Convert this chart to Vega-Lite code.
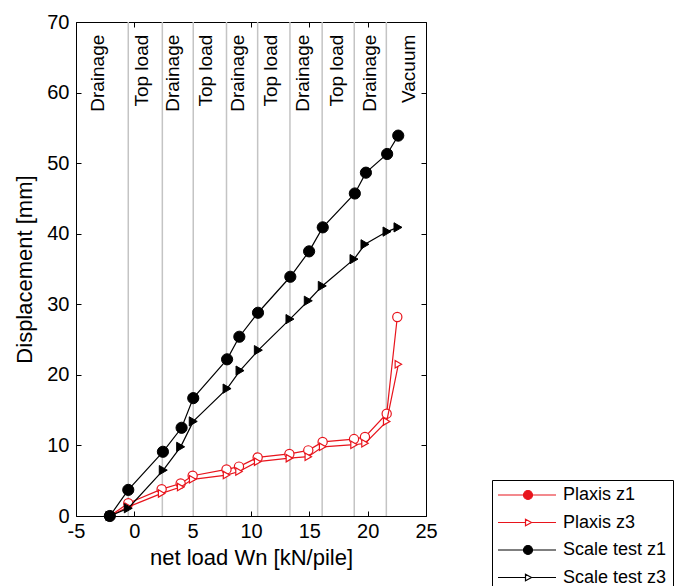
{
  "$schema": "https://vega.github.io/schema/vega-lite/v6.json",
  "autosize": "none",
  "width": 350,
  "height": 494,
  "padding": {"left": 76, "top": 22, "right": 252, "bottom": 70},
  "background": "white",
  "config": {
    "view": {"stroke": "black", "strokeWidth": 1},
    "font": "Liberation Sans",
    "axis": {
      "grid": false,
      "domain": false,
      "tickColor": "black",
      "tickSize": -5,
      "labelFlush": false,
      "labelColor": "black",
      "titleColor": "black",
      "labelFont": "Liberation Sans",
      "titleFont": "Liberation Sans",
      "titleFontWeight": "normal",
      "labelFontSize": 20,
      "titleFontSize": 22
    },
    "legend": {
      "title": null, "orient": "none", "legendX": 416, "legendY": 458,
      "strokeColor": "black", "fillColor": "white", "padding": 6,
      "labelFontSize": 18, "labelColor": "black", "labelFont": "Liberation Sans",
      "rowPadding": 9.5, "symbolSize": 100, "labelOffset": 47,
      "symbolOpacity": 1, "symbolStrokeWidth": 1.2
    }
  },
  "datasets": {
    "series": [
      {"series": "Plaxis z1", "x": -2.1, "y": 0},
      {"series": "Plaxis z1", "x": -0.52, "y": 1.8},
      {"series": "Plaxis z1", "x": 2.34, "y": 3.8},
      {"series": "Plaxis z1", "x": 3.97, "y": 4.6},
      {"series": "Plaxis z1", "x": 5.0, "y": 5.7},
      {"series": "Plaxis z1", "x": 7.9, "y": 6.6},
      {"series": "Plaxis z1", "x": 8.97, "y": 7.0},
      {"series": "Plaxis z1", "x": 10.57, "y": 8.3},
      {"series": "Plaxis z1", "x": 13.29, "y": 8.8},
      {"series": "Plaxis z1", "x": 14.91, "y": 9.3},
      {"series": "Plaxis z1", "x": 16.14, "y": 10.5},
      {"series": "Plaxis z1", "x": 18.83, "y": 10.9},
      {"series": "Plaxis z1", "x": 19.77, "y": 11.2},
      {"series": "Plaxis z1", "x": 21.63, "y": 14.5},
      {"series": "Plaxis z1", "x": 22.54, "y": 28.2},
      {"series": "Plaxis z3", "x": -2.1, "y": 0},
      {"series": "Plaxis z3", "x": -0.52, "y": 1.3},
      {"series": "Plaxis z3", "x": 2.34, "y": 3.2},
      {"series": "Plaxis z3", "x": 3.97, "y": 4.1},
      {"series": "Plaxis z3", "x": 5.0, "y": 5.2},
      {"series": "Plaxis z3", "x": 7.9, "y": 5.8},
      {"series": "Plaxis z3", "x": 8.97, "y": 6.3},
      {"series": "Plaxis z3", "x": 10.57, "y": 7.7},
      {"series": "Plaxis z3", "x": 13.29, "y": 8.2},
      {"series": "Plaxis z3", "x": 14.91, "y": 8.4},
      {"series": "Plaxis z3", "x": 16.14, "y": 9.8},
      {"series": "Plaxis z3", "x": 18.83, "y": 10.1},
      {"series": "Plaxis z3", "x": 19.77, "y": 10.3},
      {"series": "Plaxis z3", "x": 21.63, "y": 13.4},
      {"series": "Plaxis z3", "x": 22.63, "y": 21.5},
      {"series": "Scale test z1", "x": -2.1, "y": 0},
      {"series": "Scale test z1", "x": -0.52, "y": 3.7},
      {"series": "Scale test z1", "x": 2.45, "y": 9.1},
      {"series": "Scale test z1", "x": 4.05, "y": 12.5},
      {"series": "Scale test z1", "x": 5.05, "y": 16.7},
      {"series": "Scale test z1", "x": 7.95, "y": 22.2},
      {"series": "Scale test z1", "x": 9.0, "y": 25.4},
      {"series": "Scale test z1", "x": 10.6, "y": 28.8},
      {"series": "Scale test z1", "x": 13.37, "y": 33.9},
      {"series": "Scale test z1", "x": 14.98, "y": 37.5},
      {"series": "Scale test z1", "x": 16.15, "y": 40.9},
      {"series": "Scale test z1", "x": 18.9, "y": 45.7},
      {"series": "Scale test z1", "x": 19.85, "y": 48.65},
      {"series": "Scale test z1", "x": 21.67, "y": 51.3},
      {"series": "Scale test z1", "x": 22.62, "y": 53.9},
      {"series": "Scale test z3", "x": -2.1, "y": 0},
      {"series": "Scale test z3", "x": -0.52, "y": 1.1},
      {"series": "Scale test z3", "x": 2.48, "y": 6.5},
      {"series": "Scale test z3", "x": 3.97, "y": 9.8},
      {"series": "Scale test z3", "x": 5.05, "y": 13.4},
      {"series": "Scale test z3", "x": 7.95, "y": 18.05},
      {"series": "Scale test z3", "x": 9.06, "y": 20.6},
      {"series": "Scale test z3", "x": 10.63, "y": 23.5},
      {"series": "Scale test z3", "x": 13.34, "y": 27.9},
      {"series": "Scale test z3", "x": 14.91, "y": 30.5},
      {"series": "Scale test z3", "x": 16.11, "y": 32.6},
      {"series": "Scale test z3", "x": 18.83, "y": 36.4},
      {"series": "Scale test z3", "x": 19.77, "y": 38.5},
      {"series": "Scale test z3", "x": 21.66, "y": 40.3},
      {"series": "Scale test z3", "x": 22.6, "y": 40.9}
    ],
    "phases": [
      {"label": "Drainage", "x": -3.1},
      {"label": "Top load", "x": 0.65},
      {"label": "Drainage", "x": 3.34},
      {"label": "Top load", "x": 6.14},
      {"label": "Drainage", "x": 8.9},
      {"label": "Top load", "x": 11.7},
      {"label": "Drainage", "x": 14.48},
      {"label": "Top load", "x": 17.34},
      {"label": "Drainage", "x": 20.2},
      {"label": "Vacuum", "x": 23.5}
    ],
    "bounds": [
      {"x": -0.52}, {"x": 2.4}, {"x": 5.05}, {"x": 7.9}, {"x": 10.57},
      {"x": 13.34}, {"x": 16.1}, {"x": 18.85}, {"x": 21.6}
    ]
  },
  "layer": [
    {
      "data": {"name": "bounds"},
      "mark": {"type": "rule", "color": "#c4c4c4", "strokeWidth": 1.5},
      "encoding": {
        "x": {
          "field": "x", "type": "quantitative",
          "scale": {"domain": [-5, 25], "nice": false, "zero": false},
          "axis": {"orient": "top", "labels": false, "title": null, "values": [-5, 0, 5, 10, 15, 20, 25]}
        },
        "y": {
          "datum": 0, "type": "quantitative",
          "scale": {"domain": [0, 70], "nice": false},
          "axis": {"orient": "right", "labels": false, "title": null, "values": [0, 10, 20, 30, 40, 50, 60, 70]}
        },
        "y2": {"datum": 70}
      }
    },
    {
      "data": {"name": "phases"},
      "mark": {"type": "text", "angle": 270, "align": "right", "baseline": "middle", "fontSize": 19, "font": "Liberation Sans", "color": "black"},
      "encoding": {
        "x": {"field": "x", "type": "quantitative", "axis": null},
        "y": {"datum": 68.2, "type": "quantitative", "axis": null},
        "text": {"field": "label"}
      }
    },
    {
      "data": {"name": "series"},
      "transform": [{"filter": "datum.series == 'Plaxis z1'"}],
      "mark": {"type": "line", "color": "#e8141c", "strokeWidth": 1.2,
               "point": {"shape": "circle", "filled": false, "fill": "white", "stroke": "#e8141c", "size": 85, "strokeWidth": 1.2, "opacity": 1}},
      "encoding": {
        "x": {
          "field": "x", "type": "quantitative",
          "axis": {"orient": "bottom", "title": "net load Wn [kN/pile]", "values": [-5, 0, 5, 10, 15, 20, 25], "labelExpr": "toString(datum.value)", "labelPadding": 10, "titlePadding": 6}
        },
        "y": {
          "field": "y", "type": "quantitative",
          "axis": {"orient": "left", "title": "Displacement [mm]", "values": [0, 10, 20, 30, 40, 50, 60, 70], "labelPadding": 12, "titlePadding": 10}
        }
      }
    },
    {
      "data": {"name": "series"},
      "transform": [{"filter": "datum.series == 'Plaxis z3'"}],
      "mark": {"type": "line", "color": "#e8141c", "strokeWidth": 1.2,
               "point": {"shape": "triangle-right", "filled": false, "fill": "white", "stroke": "#e8141c", "size": 55, "strokeWidth": 1.2, "opacity": 1}},
      "encoding": {
        "x": {"field": "x", "type": "quantitative", "axis": null},
        "y": {"field": "y", "type": "quantitative", "axis": null}
      }
    },
    {
      "data": {"name": "series"},
      "transform": [{"filter": "datum.series == 'Scale test z1'"}],
      "mark": {"type": "line", "color": "black", "strokeWidth": 1.2,
               "point": {"shape": "circle", "filled": true, "fill": "black", "stroke": "black", "size": 125, "strokeWidth": 1, "opacity": 1}},
      "encoding": {
        "x": {"field": "x", "type": "quantitative", "axis": null},
        "y": {"field": "y", "type": "quantitative", "axis": null}
      }
    },
    {
      "data": {"name": "series"},
      "transform": [{"filter": "datum.series == 'Scale test z3'"}],
      "mark": {"type": "line", "color": "black", "strokeWidth": 1.2,
               "point": {"shape": "triangle-right", "filled": true, "fill": "black", "stroke": "black", "size": 85, "strokeWidth": 1, "opacity": 1}},
      "encoding": {
        "x": {"field": "x", "type": "quantitative", "axis": null},
        "y": {"field": "y", "type": "quantitative", "axis": null}
      }
    },
    {
      "data": {"name": "series"},
      "mark": {"type": "point", "opacity": 0, "size": 100, "strokeWidth": 1.2},
      "encoding": {
        "x": {"field": "x", "type": "quantitative", "axis": null},
        "y": {"field": "y", "type": "quantitative", "axis": null},
        "color": {
          "field": "series", "type": "nominal",
          "scale": {"domain": ["Plaxis z1", "Plaxis z3", "Scale test z1", "Scale test z3"], "range": ["#e8141c", "#e8141c", "black", "black"]}
        },
        "fill": {
          "field": "series", "type": "nominal",
          "scale": {"domain": ["Plaxis z1", "Plaxis z3", "Scale test z1", "Scale test z3"], "range": ["#e8141c", "white", "black", "white"]}
        },
        "shape": {
          "field": "series", "type": "nominal",
          "scale": {"domain": ["Plaxis z1", "Plaxis z3", "Scale test z1", "Scale test z3"],
                    "range": [
                      "M-1.8,0H9.8M5.1,0A0.9,0.9,0,1,1,3.3,0A0.9,0.9,0,1,1,5.1,0Z",
                      "M-1.8,0H3.7M4.9,0H9.8M3.7,-0.65L4.9,0L3.7,0.65Z",
                      "M-1.8,0H9.8M5.1,0A0.9,0.9,0,1,1,3.3,0A0.9,0.9,0,1,1,5.1,0Z",
                      "M-1.8,0H3.7M4.9,0H9.8M3.7,-0.65L4.9,0L3.7,0.65Z"
                    ]}
        }
      }
    }
  ],
  "resolve": {"axis": {"x": "independent", "y": "independent"}}
}
